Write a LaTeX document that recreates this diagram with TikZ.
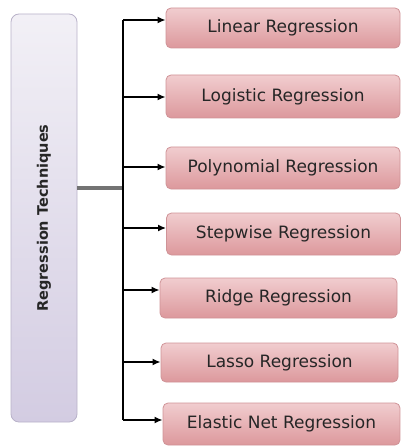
\documentclass[tikz,border=0pt]{standalone}
\usepackage{fontspec}
\setmainfont{DejaVu Sans}
\usetikzlibrary{arrows.meta}
\definecolor{pinktop}{HTML}{F1CDCF}
\definecolor{pinkmid}{HTML}{F8E4E4}
\definecolor{pinkbot}{HTML}{DC989C}
\definecolor{pinkline}{HTML}{CF9397}
\definecolor{lavtop}{HTML}{F2F0F6}
\definecolor{lavbot}{HTML}{D3CCE2}
\definecolor{lavline}{HTML}{B9B2C9}
\tikzset{
  techbox/.style={draw=pinkline, line width=0.8pt, rounded corners=5pt,
    top color=pinktop, middle color=pinkmid, bottom color=pinkbot,
    minimum width=#1, inner sep=0pt, font=\fontsize{17}{19}\selectfont, text=black!85},
  techbox/.default=234pt,
  rootbox/.style={draw=lavline, line width=0.8pt, rounded corners=8pt,
    top color=lavtop, bottom color=lavbot, minimum width=66pt, minimum height=408pt, inner sep=0pt},
  spine/.style={line width=1.8pt, black},
  arr/.style={line width=1.8pt, black, -{Latex[length=8pt,width=7pt]}},
  feed/.style={line width=3pt, black!55}
}
\begin{document}
\begin{tikzpicture}[x=1pt,y=-1pt]
\useasboundingbox (0,0) rectangle (402,446);
\node[rootbox] (root) at (44,218) {};
\node[rotate=90, font=\bfseries\fontsize{14.5}{16}\selectfont, text=black!85] (roottext) at (root.center) {Regression Techniques};

\node[techbox, minimum height=40pt] (b1) at (283,28) {Linear Regression};
\node[techbox, minimum height=43pt] (b2) at (283,96.5) {Logistic Regression};
\node[techbox, minimum height=42pt] (b3) at (283,168) {Polynomial Regression};
\node[techbox, minimum height=42pt] (b4) at (283.5,234) {Stepwise Regression};
\node[techbox=237pt, minimum height=40pt] (b5) at (278.5,298) {Ridge Regression};
\node[techbox=237pt, minimum height=39pt] (b6) at (279.5,362.5) {Lasso Regression};
\node[techbox=237pt, minimum height=42pt] (b7) at (281.5,424) {Elastic Net Regression};

\coordinate (s1) at (123,20);
\coordinate (s2) at (123,97);
\coordinate (s3) at (123,167);
\coordinate (s4) at (123,228);
\coordinate (s5) at (123,290);
\coordinate (s6) at (123,362);
\coordinate (s7) at (123,420);
\coordinate (sm) at (123,188);

\draw[feed] (root.east |- sm) -- (sm);
\draw[spine] (s1) -- (s7);
\draw[arr] (s1) -- (s1 -| b1.west);
\draw[arr] (s2) -- (s2 -| b2.west);
\draw[arr] (s3) -- (s3 -| b3.west);
\draw[arr] (s4) -- (s4 -| b4.west);
\draw[arr] (s5) -- (s5 -| b5.west);
\draw[arr] (s6) -- (s6 -| b6.west);
\draw[arr] (s7) -- (s7 -| b7.west);
\end{tikzpicture}
\end{document}
